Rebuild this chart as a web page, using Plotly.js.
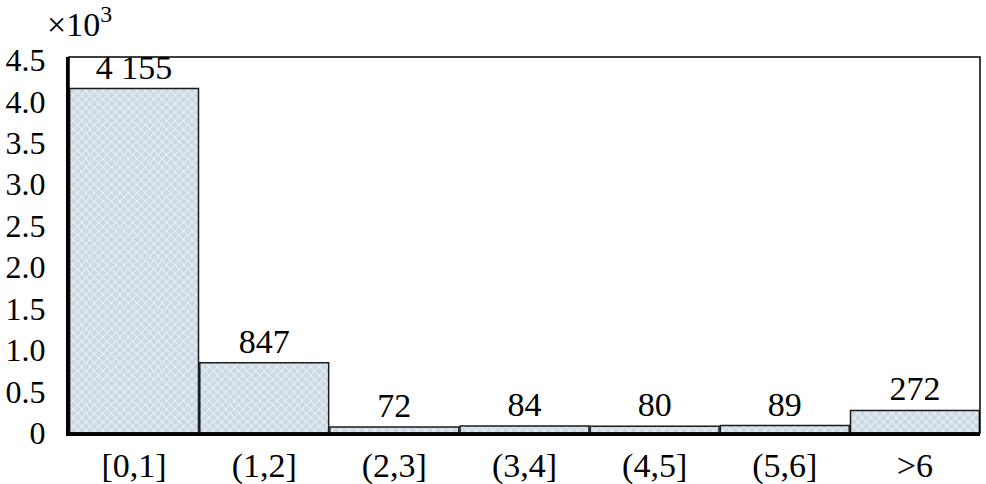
<!DOCTYPE html>
<html>
<head>
<meta charset="utf-8">
<script src="https://cdn.plot.ly/plotly-3.0.1.min.js"></script>
<style>html,body{margin:0;padding:0;background:#fff;}#chart{width:986px;height:484px;}</style>
</head>
<body>
<div id="chart"></div>
<script>
const categories = ["[0,1]", "(1,2]", "(2,3]", "(3,4]", "(4,5]", "(5,6]", ">6"];
const counts = [4155, 847, 72, 84, 80, 89, 272];
const barLabels = ["4 155", "847", "72", "84", "80", "89", "272"];
const yTickVals = [0, 0.5, 1.0, 1.5, 2.0, 2.5, 3.0, 3.5, 4.0, 4.5];
const yTickText = ["0", "0.5", "1.0", "1.5", "2.0", "2.5", "3.0", "3.5", "4.0", "4.5"];

const yThousands = counts.map(v => v / 1000);
const serif = "Liberation Serif";

const trace = {
  type: "bar",
  x: categories,
  y: yThousands,
  text: barLabels,
  textposition: "outside",
  cliponaxis: false,
  textfont: {family: serif, size: 34, color: "#000"},
  marker: {
    color: "#d3e0ea",
    line: {color: "#1a1a1a", width: 1.5},
    pattern: {shape: "x", bgcolor: "#cbd9e4", fgcolor: "#eef3f7", size: 6, solidity: 0.3, fillmode: "replace"}
  },
  hoverinfo: "none"
};

const layout = {
  width: 986, height: 484,
  margin: {l: 69, r: 6, t: 57, b: 51},
  paper_bgcolor: "#fff", plot_bgcolor: "#fff",
  showlegend: false,
  bargap: 0.01,
  font: {family: serif, color: "#000"},
  xaxis: {
    type: "category",
    showline: true, linecolor: "#000", linewidth: 3,
    ticks: "", showgrid: false, zeroline: false,
    tickfont: {family: serif, size: 34, color: "#000"},
    ticklabelstandoff: 0
  },
  yaxis: {
    range: [0, 4.535],
    showline: true, linecolor: "#000", linewidth: 3,
    ticks: "", showgrid: false, zeroline: false,
    tickmode: "array", tickvals: yTickVals, ticktext: yTickText,
    tickfont: {family: serif, size: 32, color: "#000"},
    ticklabelstandoff: 14
  },
  shapes: [{
    type: "rect", xref: "paper", yref: "paper", x0: 0, x1: 1, y0: 0, y1: 1,
    line: {color: "#000", width: 1.5}, layer: "above"
  }],
  annotations: [{
    xref: "paper", yref: "paper", x: 0.012, y: 1.0, yshift: 12,
    xanchor: "center", yanchor: "bottom", showarrow: false,
    text: "×10<sup>3</sup>",
    font: {family: serif, size: 34, color: "#000"}
  }]
};

Plotly.newPlot("chart", [trace], layout, {displayModeBar: false, staticPlot: true});
</script>
</body>
</html>
